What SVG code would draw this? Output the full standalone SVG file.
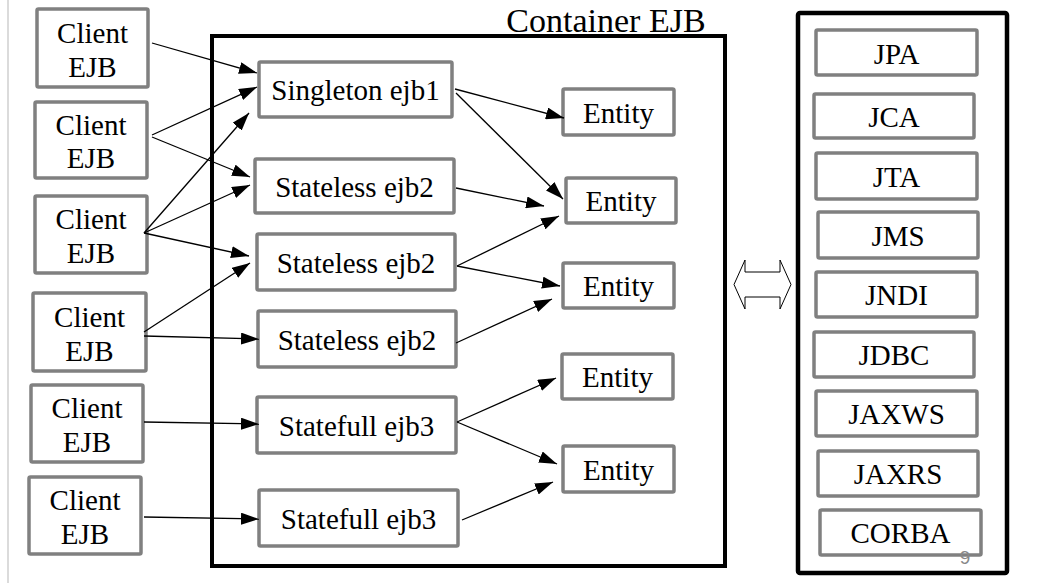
<svg xmlns="http://www.w3.org/2000/svg" width="1037" height="585" viewBox="0 0 1037 585">
<style>
.box{fill:#fff;stroke:#808080;stroke-width:3.5}
.t{font-family:"Liberation Serif",serif;font-size:29px;fill:#000;text-anchor:middle}
.c{stroke:#000;stroke-width:1.3;fill:none;marker-end:url(#ah)}
</style>
<defs>
<marker id="ah" markerWidth="18" markerHeight="12" refX="18" refY="6" orient="auto" markerUnits="userSpaceOnUse"><path d="M0,0 L18,6 L0,12 Z" fill="#000"/></marker>
</defs>
<rect width="1037" height="585" fill="#fff"/>
<line x1="8" y1="0" x2="8" y2="583" stroke="#cfcfcf" stroke-width="1.5"/>

<g id="container">
<rect x="212" y="36" width="513" height="530" fill="#fff" stroke="#000" stroke-width="4"/>
<text x="606" y="32" font-family="'Liberation Serif',serif" font-size="34" text-anchor="middle">Container EJB</text>
</g>
<g id="services">
<rect x="798" y="13" width="209" height="560" rx="2" fill="#fff" stroke="#000" stroke-width="4.5"/>
</g>

<g id="client1"><rect class="box" x="37" y="9" width="111" height="78" rx="1.5"/><text class="t" x="92.5" y="43">Client</text><text class="t" x="92.5" y="77">EJB</text></g>
<g id="client2"><rect class="box" x="35" y="102" width="112" height="76" rx="1.5"/><text class="t" x="91" y="135">Client</text><text class="t" x="91" y="168">EJB</text></g>
<g id="client3"><rect class="box" x="35" y="196" width="112" height="77" rx="1.5"/><text class="t" x="91" y="229">Client</text><text class="t" x="91" y="263">EJB</text></g>
<g id="client4"><rect class="box" x="33" y="293" width="113" height="78" rx="1.5"/><text class="t" x="89.5" y="327">Client</text><text class="t" x="89.5" y="361">EJB</text></g>
<g id="client5"><rect class="box" x="31" y="385" width="112" height="77" rx="1.5"/><text class="t" x="87" y="418">Client</text><text class="t" x="87" y="452">EJB</text></g>
<g id="client6"><rect class="box" x="29" y="477" width="112" height="77" rx="1.5"/><text class="t" x="85" y="510">Client</text><text class="t" x="85" y="544">EJB</text></g>

<g id="singleton1"><rect class="box" x="259" y="62" width="193" height="55" rx="1.5"/><text class="t" x="355.5" y="100">Singleton ejb1</text></g>
<g id="stateless1"><rect class="box" x="255" y="159" width="199" height="54" rx="1.5"/><text class="t" x="354.5" y="196.5">Stateless ejb2</text></g>
<g id="stateless2"><rect class="box" x="257" y="234" width="198" height="56" rx="1.5"/><text class="t" x="356" y="272.5">Stateless ejb2</text></g>
<g id="stateless3"><rect class="box" x="258" y="311" width="198" height="56" rx="1.5"/><text class="t" x="357" y="349.5">Stateless ejb2</text></g>
<g id="statefull1"><rect class="box" x="257" y="397" width="199" height="56" rx="1.5"/><text class="t" x="356.5" y="435.5">Statefull ejb3</text></g>
<g id="statefull2"><rect class="box" x="259" y="490" width="199" height="56" rx="1.5"/><text class="t" x="358.5" y="528.5">Statefull ejb3</text></g>

<g id="entity1"><rect class="box" x="563" y="89" width="111" height="46" rx="1.5"/><text class="t" x="618.5" y="122.5">Entity</text></g>
<g id="entity2"><rect class="box" x="566" y="178" width="110" height="45" rx="1.5"/><text class="t" x="621" y="211">Entity</text></g>
<g id="entity3"><rect class="box" x="563" y="263" width="111" height="45" rx="1.5"/><text class="t" x="618.5" y="296">Entity</text></g>
<g id="entity4"><rect class="box" x="562" y="354" width="111" height="45" rx="1.5"/><text class="t" x="617.5" y="387">Entity</text></g>
<g id="entity5"><rect class="box" x="563" y="446" width="111" height="46" rx="1.5"/><text class="t" x="618.5" y="479.5">Entity</text></g>

<g id="jpa"><rect class="box" x="816" y="30" width="161" height="45" rx="1.5"/><text class="t" x="896.5" y="63.5">JPA</text></g>
<g id="jca"><rect class="box" x="814" y="94" width="160" height="44" rx="1.5"/><text class="t" x="894" y="127">JCA</text></g>
<g id="jta"><rect class="box" x="816" y="153" width="161" height="46" rx="1.5"/><text class="t" x="896.5" y="186.5">JTA</text></g>
<g id="jms"><rect class="box" x="818" y="212" width="160" height="46" rx="1.5"/><text class="t" x="898" y="245.5">JMS</text></g>
<g id="jndi"><rect class="box" x="816" y="272" width="161" height="45" rx="1.5"/><text class="t" x="896.5" y="305">JNDI</text></g>
<g id="jdbc"><rect class="box" x="814" y="332" width="160" height="45" rx="1.5"/><text class="t" x="894" y="365">JDBC</text></g>
<g id="jaxws"><rect class="box" x="816" y="391" width="161" height="45" rx="1.5"/><text class="t" x="896.5" y="424">JAXWS</text></g>
<g id="jaxrs"><rect class="box" x="818" y="451" width="160" height="45" rx="1.5"/><text class="t" x="898" y="484">JAXRS</text></g>
<g id="corba"><rect class="box" x="820" y="510" width="161" height="45" rx="1.5"/><text class="t" x="900.5" y="543">CORBA</text></g>

<g id="link"><path d="M734,284.5 L745,260 L745,272 L780,272 L780,260 L791,284.5 L780,309 L780,297 L745,297 L745,309 Z" fill="#fff" stroke="#000" stroke-width="1"/></g>

<g id="connectors">
<line class="c" x1="152" y1="43" x2="257" y2="73"/>
<line class="c" x1="152" y1="135" x2="257" y2="87"/>
<line class="c" x1="152" y1="137" x2="250" y2="177"/>
<line class="c" x1="144" y1="233" x2="249" y2="113"/>
<line class="c" x1="144" y1="233" x2="250" y2="185"/>
<line class="c" x1="144" y1="233" x2="249" y2="256"/>
<line class="c" x1="144" y1="332" x2="250" y2="263"/>
<line class="c" x1="144" y1="336" x2="259" y2="339"/>
<line class="c" x1="144" y1="422" x2="259" y2="424"/>
<line class="c" x1="144" y1="517" x2="259" y2="519"/>
<line class="c" x1="455" y1="89" x2="564" y2="118"/>
<line class="c" x1="456" y1="93" x2="563" y2="199"/>
<line class="c" x1="456" y1="188" x2="544" y2="206"/>
<line class="c" x1="457" y1="266" x2="559" y2="216"/>
<line class="c" x1="457" y1="266" x2="560" y2="286"/>
<line class="c" x1="456" y1="343" x2="552" y2="299"/>
<line class="c" x1="457" y1="422" x2="556" y2="378"/>
<line class="c" x1="457" y1="422" x2="557" y2="464"/>
<line class="c" x1="462" y1="520" x2="553" y2="482"/>
</g>
<text x="965" y="564" font-family="'Liberation Sans',sans-serif" font-size="19" fill="#888" text-anchor="middle">9</text>
</svg>
